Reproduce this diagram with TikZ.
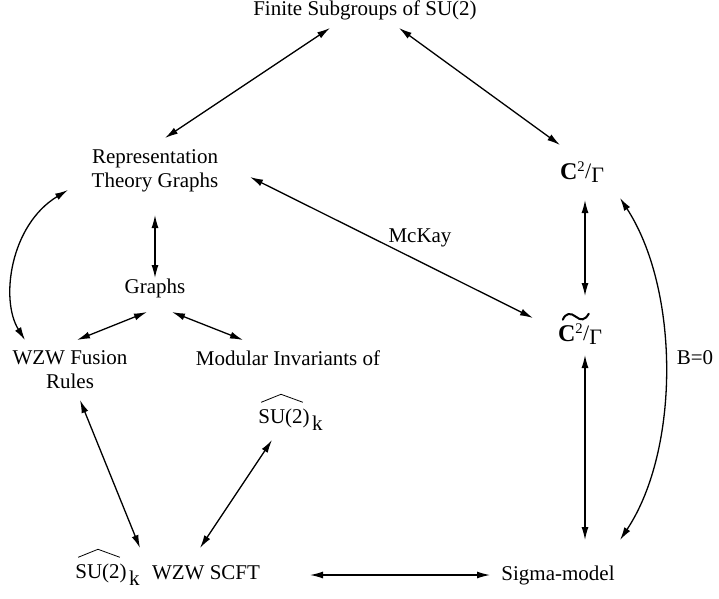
\documentclass[tikz,border=0pt]{standalone}
\usepackage{fontspec}
\setmainfont{Liberation Serif}
\usetikzlibrary{arrows.meta}
\newcommand{\CG}{{\fontsize{24}{26}\selectfont\textbf{C}}\textsuperscript{2}\raisebox{1pt}{{\fontsize{22}{24}\selectfont/}}\raisebox{-3pt}{{\fontsize{22}{24}\selectfont Γ}}}
\begin{document}
\begin{tikzpicture}[x=1pt,y=-1pt,
  every node/.style={font=\fontsize{21}{24}\selectfont, inner sep=0pt, align=center},
  dbl/.style={{Latex[length=13pt,width=7pt]}-{Latex[length=13pt,width=7pt]}, line width=1.3pt},
  accent/.style={line width=0.8pt},
  tildeacc/.style={line width=2pt, line cap=round}]
\useasboundingbox (0,0) rectangle (719,598);
\node (fin) at (365,10) {Finite Subgroups of SU(2)};
\node (rep) at (155,171) {Representation\\Theory Graphs};
\node (c2) at (582,172) {\CG};
\node (c2t) at (580,334) {\CG};
\node (mckay) at (420,238) {McKay};
\node (b0) at (695,358) {B=0};
\node (graphs) at (155,288) {Graphs};
\node (wzwf) at (70,370) {WZW Fusion\\Rules};
\node (mod) at (288,358) {Modular Invariants of};
\node (modsu) at (284,418) {SU(2)};
\node[anchor=base west] (modk) at ([shift={(2,7)}]modsu.base east) {k};
\node (scftsu) at (101,573) {SU(2)};
\node[anchor=base west] (scftk) at ([shift={(2,7)}]scftsu.base east) {k};
\node (scft) at (206,573) {WZW SCFT};
\node (sigma) at (558,575) {Sigma-model};

% accents
\draw[accent] ([shift={(3,-6)}]modsu.north west) -- ([shift={(-3,-14)}]modsu.north) -- ([shift={(-7,-6)}]modsu.north east);
\draw[accent] ([shift={(3,-6)}]scftsu.north west) -- ([shift={(-3,-14)}]scftsu.north) -- ([shift={(-7,-6)}]scftsu.north east);
\draw[tildeacc] ([shift={(5,-4)}]c2t.north west) .. controls ([shift={(8,-11)}]c2t.north west) and ([shift={(13,-11)}]c2t.north west) .. ([shift={(18,-7)}]c2t.north west) .. controls ([shift={(23,-3)}]c2t.north west) and ([shift={(27,-3)}]c2t.north west) .. ([shift={(31,-10)}]c2t.north west);

\draw[dbl] ([shift={(-35,18)}]fin.center) -- ([shift={(10,-33)}]rep.center);
\draw[dbl] ([shift={(34,18)}]fin.center) -- ([shift={(-22,-27)}]c2.center);
\draw[dbl] ([shift={(95,6)}]rep.center) -- ([shift={(-47,-16)}]c2t.center);
\draw[dbl] ([shift={(3,28)}]c2.center) -- ([shift={(5,-38)}]c2t.center);
\draw[dbl] ([shift={(5,21)}]c2t.center) -- ([shift={(27,-35)}]sigma.center);
\draw[dbl] ([shift={(38,26)}]c2.center) .. controls ([shift={(98,118)}]c2.center) and ([shift={(122,-125)}]sigma.center) .. ([shift={(62,-35)}]sigma.center);
\draw[dbl] ([shift={(0,44)}]rep.center) -- ([shift={(0,-10)}]graphs.center);
\draw[dbl] ([shift={(-8,24)}]graphs.center) -- ([shift={(7,-30)}]wzwf.center);
\draw[dbl] ([shift={(17,24)}]graphs.center) -- ([shift={(-45,-18)}]mod.center);
\draw[dbl] ([shift={(-87,19)}]rep.center) .. controls ([shift={(-145,54)}]rep.center) and ([shift={(-70,-70)}]wzwf.center) .. ([shift={(-45,-30)}]wzwf.center);
\draw[dbl] ([shift={(10,30)}]wzwf.center) -- ([shift={(-66,-25)}]scft.center);
\draw[dbl] ([shift={(-12,22)}]modsu.center) -- ([shift={(-6,-25)}]scft.center);
\draw[dbl] ([shift={(104,2)}]scft.center) -- ([shift={(-68,0)}]sigma.center);
\end{tikzpicture}
\end{document}
